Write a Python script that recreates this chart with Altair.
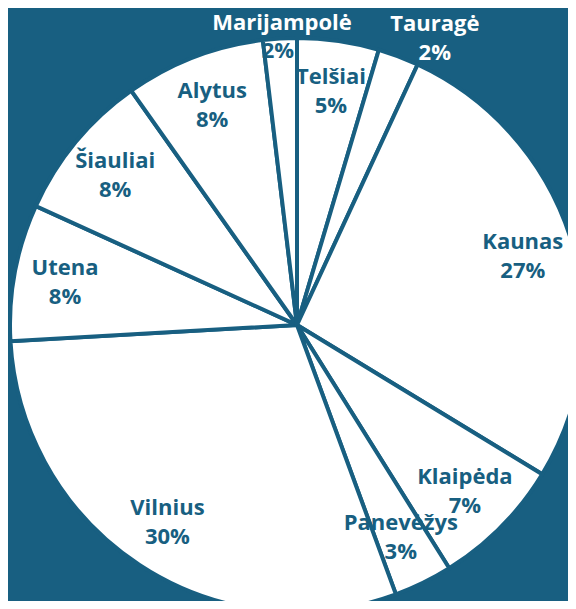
import altair as alt
import pandas as pd

regions = ["Telšiai", "Tauragė", "Kaunas", "Klaipėda", "Panevėžys",
           "Vilnius", "Utena", "Šiauliai", "Alytus", "Marijampolė"]
shares = [4.6, 2.3, 26.8, 7.4, 3.3, 29.7, 7.7, 8.4, 7.9, 1.9]

BG = "#185f81"
R = 287
CX, CY = 289, 317

df = pd.DataFrame({"region": regions, "share": shares, "order": list(range(len(regions)))})
df["pct"] = df["share"].round().astype(int).astype(str) + "%"
df["label"] = df["region"] + "\n" + df["pct"]
df["inside"] = [s >= 2.5 for s in shares]

base = alt.Chart(df).encode(
    theta=alt.Theta("share:Q", stack=True),
    order=alt.Order("order:Q"),
)

pie = base.mark_arc(radius=R, fill="white", stroke=BG, strokeWidth=4).encode(
    x=alt.value(CX), y=alt.value(CY)
)


def labels(test, field, color, radius, theta_offset=0.0, dy=-14):
    return base.mark_text(font="Open Sans", fontWeight="bold", fontSize=22,
                          lineBreak="\n", lineHeight=29, color=color,
                          align="center", baseline="middle", radius=radius,
                          thetaOffset=theta_offset, dy=dy).encode(
        x=alt.value(CX), y=alt.value(CY),
        text=f"{field}:N",
        opacity=alt.condition(test, alt.value(1), alt.value(0)),
    )


txt_in = labels("datum.inside", "label", BG, 236)
txt_mar_name = labels("datum.region == 'Marijampolė'", "region", "white", 302, 0.01, 0)
txt_mar_pct = labels("datum.region == 'Marijampolė'", "pct", BG, 275, -0.01, 0)
txt_tau = labels("datum.region == 'Tauragė'", "label", "white", 318, 0.087)

chart = alt.layer(pie, txt_in, txt_mar_name, txt_mar_pct, txt_tau).properties(
    width=560, height=593, background=BG, padding=0,
    autosize=alt.AutoSizeParams(type="none"),
).configure_view(stroke=None)

chart.save("out.html", embed_options={"renderer": "svg", "actions": False})
